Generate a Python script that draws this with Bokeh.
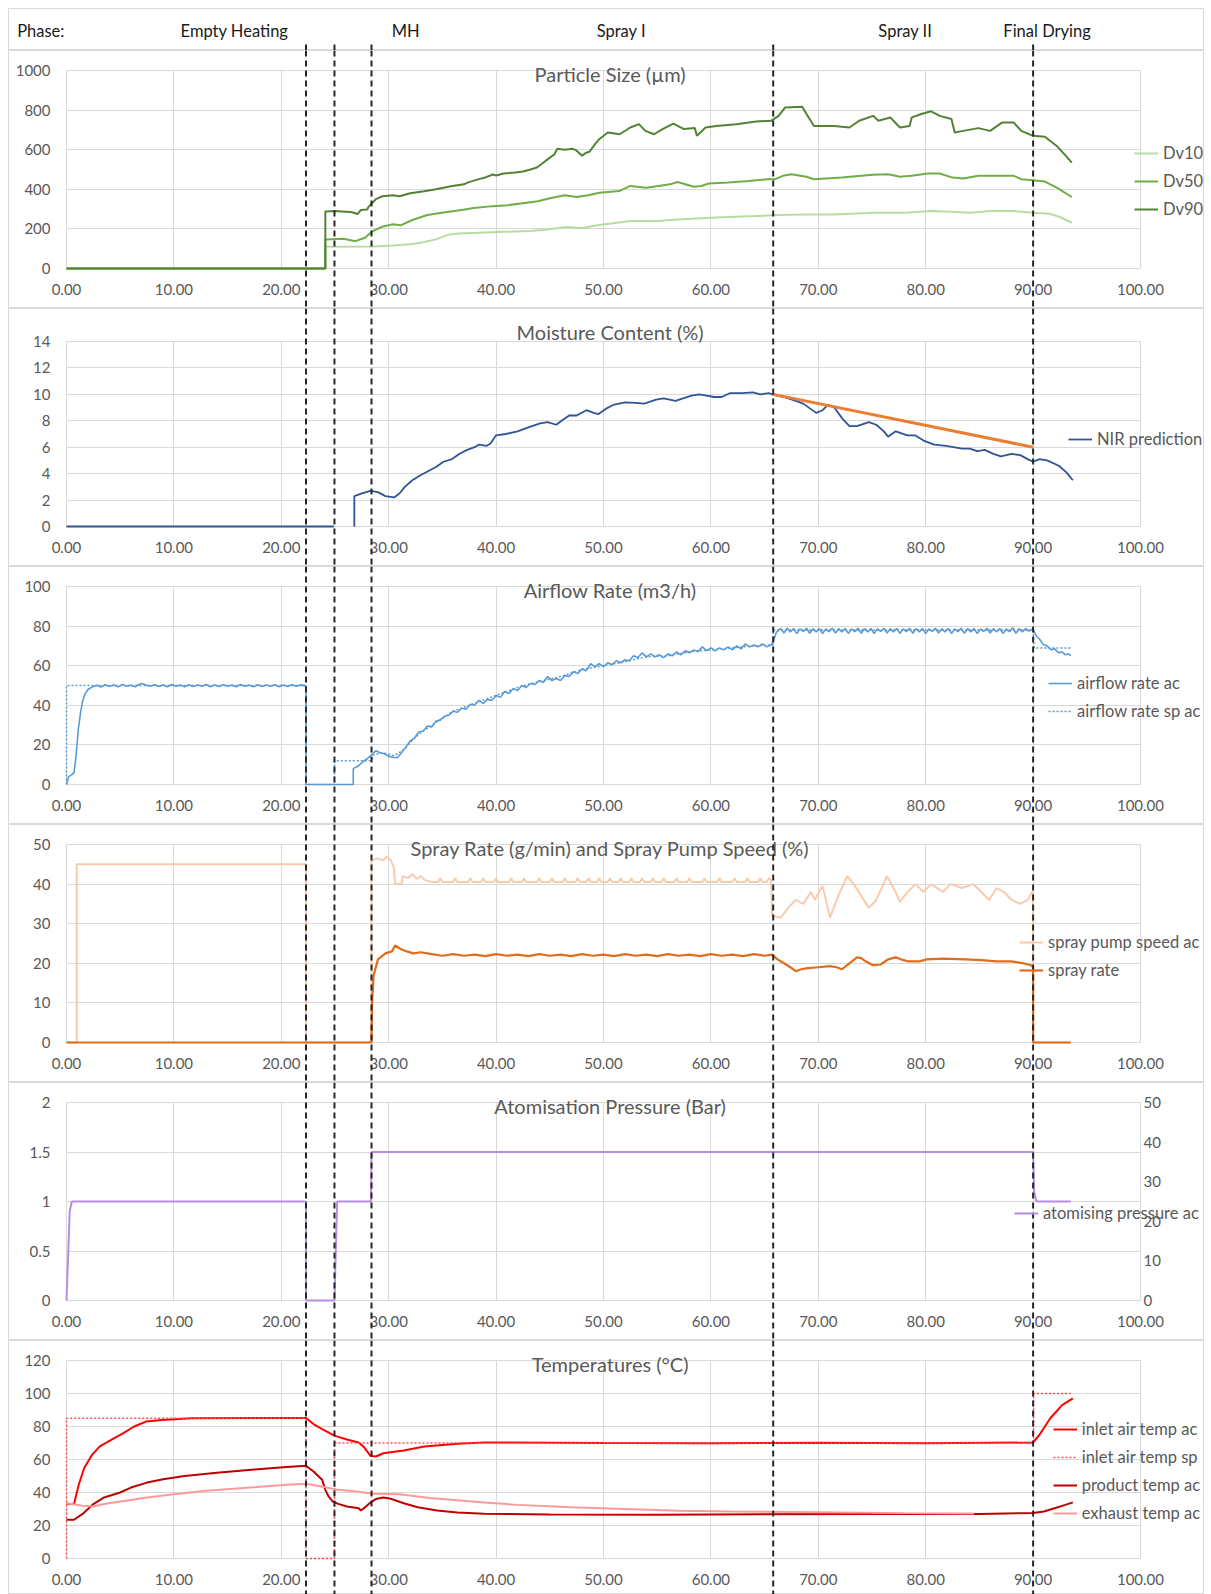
from bokeh.plotting import figure
from bokeh.layouts import column
from bokeh.models import (Range1d, LinearAxis, FixedTicker, PrintfTickFormatter,
                          Span, Label, Legend, LegendItem, Grid)
from bokeh.embed import file_html
from bokeh.resources import INLINE
from bokeh.core.properties import value

NaN = float("nan")

# ---------------------------------------------------------------- data
X_TICKS = [0, 10, 20, 30, 40, 50, 60, 70, 80, 90, 100]
PHASE_TITLE = "Phase:"
PHASE_TITLE_X = -4.59
PHASE_NAMES = ["Empty Heating", "MH", "Spray I", "Spray II", "Final Drying"]
PHASE_LABEL_X = [15.64, 31.58, 51.66, 78.1, 91.3]
PHASE_BOUNDS = [22.3, 24.95, 28.4, 65.8, 90.0]

# Particle size (um)
DV10 = [(0, 0), (24.1, 0), (24.1, 110), (28.5, 111), (30.4, 116), (32.0, 122), (33.0, 130),
        (34.4, 147), (35.5, 170), (36.5, 177), (38.3, 180), (40.7, 185), (43.2, 189),
        (45.0, 198), (46.4, 209), (48.0, 205), (49.6, 220), (52.5, 240), (55.1, 240),
        (56.9, 248), (60.5, 257), (64.2, 265), (66.3, 270), (68.5, 273), (71.5, 273),
        (75.1, 282), (78.0, 282), (80.5, 290), (82.4, 287), (84.2, 282), (86.0, 290),
        (88.2, 290), (90.0, 282), (91.5, 277), (92.5, 260), (93.6, 231)]
DV50 = [(0, 0), (24.1, 0), (24.1, 147), (25.8, 150), (26.9, 138), (27.8, 155), (28.5, 189),
        (29.4, 211), (30.4, 223), (31.1, 218), (32.2, 245), (33.6, 270), (35.4, 285),
        (36.8, 296), (37.9, 305), (39.7, 315), (41.1, 320), (42.5, 330), (43.9, 340),
        (45.0, 355), (46.4, 370), (47.5, 361), (48.6, 370), (49.6, 383), (51.5, 392),
        (52.5, 417), (54.0, 408), (56.2, 425), (56.9, 437), (58.4, 413), (59.1, 417),
        (59.8, 429), (61.6, 434), (63.5, 442), (65.3, 451), (66.0, 451), (66.7, 468),
        (67.5, 476), (68.9, 463), (69.6, 451), (72.2, 459), (75.1, 473), (76.5, 476),
        (77.6, 463), (78.7, 468), (80.2, 480), (81.3, 480), (82.5, 459), (83.5, 454),
        (84.9, 468), (86.7, 468), (88.2, 468), (88.9, 451), (90.0, 446), (91.1, 439),
        (92.2, 408), (93.6, 361)]
DV90 = [(0, 0), (24.1, 0), (24.1, 288), (25.0, 290), (26.0, 287), (26.5, 285), (27.1, 275),
        (27.4, 295), (28.0, 298), (28.1, 310), (28.8, 350), (29.4, 365), (30.4, 370),
        (31.0, 365), (32.0, 380), (33.3, 390), (34.4, 400), (35.8, 415), (37.0, 425),
        (37.4, 435), (38.3, 450), (39.0, 460), (39.7, 475), (40.0, 470), (40.7, 480),
        (41.8, 485), (42.5, 490), (43.2, 500), (43.8, 510), (44.3, 530), (45.0, 560),
        (45.4, 575), (45.7, 605), (46.4, 600), (47.1, 605), (47.5, 595), (48.0, 570),
        (48.4, 585), (48.7, 590), (49.1, 620), (49.6, 653), (50.4, 687), (51.5, 678),
        (52.5, 712), (53.3, 729), (53.9, 695), (54.7, 678), (55.5, 704), (56.5, 732),
        (57.5, 704), (58.5, 709), (58.7, 670), (59.5, 712), (60.5, 720), (62.4, 729),
        (64.2, 743), (65.6, 746), (66.3, 771), (66.9, 813), (68.5, 817), (68.9, 780),
        (69.6, 720), (71.5, 720), (72.9, 712), (73.8, 746), (75.1, 771), (75.6, 746),
        (76.7, 763), (77.6, 712), (78.5, 720), (78.7, 763), (79.6, 780), (80.5, 794),
        (81.3, 771), (82.4, 755), (82.7, 687), (83.5, 695), (84.9, 709), (86.0, 695),
        (87.1, 737), (88.2, 737), (88.9, 695), (90.0, 670), (91.1, 665), (92.2, 619),
        (93.2, 560), (93.6, 535)]

# Moisture content (%)
NIR = [(0, 0), (24.9, 0), (NaN, NaN), (26.8, 0), (26.8, 2.3), (27.5, 2.5), (28.3, 2.7),
       (29.0, 2.6), (29.7, 2.3), (30.5, 2.2), (31.0, 2.5), (31.5, 3.0), (32.2, 3.5),
       (33.0, 3.9), (33.7, 4.2), (34.4, 4.5), (35.1, 4.9), (35.9, 5.1), (36.6, 5.5),
       (37.3, 5.8), (38.0, 6.0), (38.4, 6.2), (39.1, 6.1), (39.5, 6.3), (40.0, 6.9),
       (40.9, 7.0), (42.0, 7.2), (43.0, 7.5), (44.1, 7.8), (44.8, 7.9), (45.6, 7.7),
       (46.1, 8.0), (46.8, 8.4), (47.5, 8.4), (48.4, 8.8), (49.1, 8.6), (49.5, 8.5),
       (50.2, 8.9), (50.9, 9.2), (52.0, 9.4), (53.0, 9.35), (53.8, 9.3), (54.9, 9.6),
       (55.6, 9.7), (56.7, 9.5), (57.4, 9.7), (58.2, 9.9), (58.9, 10.0), (59.6, 9.9),
       (60.3, 9.8), (61.0, 9.8), (61.8, 10.1), (62.9, 10.1), (63.9, 10.15), (64.6, 10.0),
       (65.4, 10.1), (65.7, 10.0), (66.8, 9.8), (67.9, 9.5), (68.6, 9.3), (69.8, 8.6),
       (70.4, 8.8), (70.9, 9.2), (71.5, 9.0), (72.2, 8.2), (72.9, 7.6), (73.6, 7.6),
       (74.7, 7.9), (75.4, 7.7), (76.1, 7.2), (76.5, 6.8), (77.2, 7.2), (78.3, 6.9),
       (79.0, 6.9), (79.8, 6.5), (80.8, 6.2), (81.9, 6.1), (83.4, 5.9), (84.1, 5.9),
       (84.8, 5.7), (85.5, 5.8), (86.3, 5.5), (87.0, 5.3), (88.0, 5.5), (88.8, 5.4),
       (89.5, 5.1), (90.0, 4.9), (90.6, 5.1), (91.3, 5.0), (92.4, 4.6), (93.1, 4.1),
       (93.7, 3.5)]
TREND = [(65.8, 10.0), (90.0, 6.0)]

# Airflow rate (m3/h)
AIR_AC = [(0, 0), (0.2, 4), (0.5, 5), (0.7, 6), (0.9, 15), (1.1, 28), (1.3, 36), (1.5, 42),
          (1.7, 45.5), (2.0, 48), (2.4, 49.3), (2.8, 50.1), (3.2, 49.2), (3.6, 50.4),
          (4.0, 49.5), (4.4, 50.2), (4.8, 49.3), (5.2, 50.5), (5.6, 49.6), (6.0, 50.1),
          (6.4, 49.4), (6.8, 50.6), (7.0, 51.0), (7.4, 50.2), (7.8, 49.6), (8.2, 50.4),
          (8.6, 49.5), (9.0, 50.3), (9.4, 49.4), (9.8, 50.5), (10.2, 49.6), (10.6, 50.2),
          (11.0, 49.3), (11.4, 50.4), (11.8, 49.5), (12.2, 50.3), (12.6, 49.6), (13.0, 50.5),
          (13.4, 49.4), (13.8, 50.2), (14.2, 49.5), (14.6, 50.4), (15.0, 49.6), (15.4, 50.3),
          (15.8, 49.4), (16.2, 50.5), (16.6, 49.6), (17.0, 50.2), (17.4, 49.3), (17.8, 50.4),
          (18.2, 49.5), (18.6, 50.3), (19.0, 49.6), (19.4, 50.4), (19.8, 49.4), (20.2, 50.2),
          (20.6, 49.5), (21.0, 50.4), (21.4, 49.6), (21.8, 50.3), (22.3, 49.8), (22.3, 0),
          (26.7, 0), (26.7, 8), (27.2, 9.5), (27.6, 11.5), (28.0, 13), (28.4, 15), (28.8, 17),
          (29.2, 16), (29.6, 15.5), (30.0, 14.2), (30.4, 13.8), (30.8, 13.5), (31.2, 16),
          (31.6, 19), (32.0, 22), (32.4, 23.5), (32.8, 26.5), (33.2, 27), (33.6, 29.5),
          (34.0, 29), (34.4, 32), (34.8, 32.5), (35.2, 34.5), (35.6, 35), (36.0, 37),
          (36.4, 36.5), (36.8, 38.5), (37.2, 38), (37.6, 40.5), (38.0, 40), (38.4, 42.5),
          (38.8, 41), (39.2, 43), (39.6, 42.5), (40.0, 45), (40.4, 44), (40.8, 47),
          (41.2, 46), (41.6, 48.5), (42.0, 47.5), (42.4, 50), (42.8, 49), (43.2, 51),
          (43.6, 50.5), (44.0, 52.5), (44.4, 51.5), (44.8, 54.5), (45.2, 52.5), (45.6, 53.5),
          (46.0, 52.5), (46.4, 55), (46.8, 54.5), (47.2, 57), (47.6, 56), (48.0, 58.5),
          (48.4, 57.5), (48.8, 61), (49.2, 59.5), (49.6, 61), (50.0, 59.5), (50.4, 61.5),
          (50.8, 60.5), (51.2, 62.5), (51.6, 61.5), (52.0, 63), (52.4, 62.5), (52.8, 65),
          (53.2, 64), (53.6, 66.5), (54.0, 64.5), (54.4, 66), (54.8, 64.5), (55.2, 65.5),
          (55.6, 64), (56.0, 66), (56.4, 65), (56.8, 67), (57.2, 65.5), (57.6, 67.5),
          (58.0, 66.5), (58.4, 68), (58.8, 67), (59.2, 69.5), (59.6, 67.5), (60.0, 69),
          (60.4, 67.5), (60.8, 69), (61.2, 68), (61.6, 69.5), (62.0, 68), (62.4, 70),
          (62.8, 68.5), (63.2, 71), (63.6, 69.5), (64.0, 70.5), (64.4, 69.5), (64.8, 71),
          (65.2, 69.5), (65.6, 70.5), (65.8, 72), (66.1, 77), (66.5, 78.8), (66.8, 76.5),
          (67.1, 79), (67.4, 77), (67.7, 78.8), (68.0, 76.2), (68.3, 78.6), (68.6, 77.3),
          (68.9, 78.9), (69.2, 76.4), (69.5, 78.7), (69.8, 77.1), (70.1, 78.8), (70.4, 76.3),
          (70.7, 78.6), (71.0, 77.2), (71.3, 78.9), (71.6, 76.5), (71.9, 78.7), (72.2, 77.0),
          (72.5, 78.8), (72.8, 76.3), (73.1, 78.6), (73.4, 77.2), (73.7, 78.9), (74.0, 76.4),
          (74.3, 78.7), (74.6, 77.1), (74.9, 78.8), (75.2, 76.2), (75.5, 78.6), (75.8, 77.3),
          (76.1, 78.9), (76.4, 76.5), (76.7, 78.7), (77.0, 77.0), (77.3, 78.8), (77.6, 76.3),
          (77.9, 78.6), (78.2, 77.2), (78.5, 78.9), (78.8, 76.4), (79.1, 78.7), (79.4, 77.1),
          (79.7, 78.8), (80.0, 76.2), (80.3, 78.6), (80.6, 77.3), (80.9, 78.9), (81.2, 76.5),
          (81.5, 78.7), (81.8, 77.0), (82.1, 78.8), (82.4, 76.3), (82.7, 78.6), (83.0, 77.2),
          (83.3, 78.9), (83.6, 76.4), (83.9, 78.7), (84.2, 77.1), (84.5, 78.8), (84.8, 76.2),
          (85.1, 78.6), (85.4, 77.3), (85.7, 78.9), (86.0, 76.5), (86.3, 78.7), (86.6, 77.0),
          (86.9, 78.8), (87.2, 76.3), (87.5, 78.6), (87.8, 77.2), (88.1, 79.2), (88.4, 76.4),
          (88.7, 78.7), (89.0, 77.1), (89.3, 78.8), (89.6, 77.5), (90.0, 78.5), (90.3, 75),
          (90.6, 73.5), (90.9, 71), (91.3, 70), (91.7, 68), (92.0, 68.5), (92.4, 66.5),
          (92.7, 67), (93.0, 65.5), (93.3, 66), (93.5, 65)]
AIR_SP = [(0, 0), (0, 50), (22.3, 50), (22.3, 0), (24.95, 0), (24.95, 12), (28.4, 12),
          (28.6, 15), (29.5, 16), (30.5, 14.5), (31.5, 18), (32.5, 24), (34.0, 30),
          (36.0, 37), (38.0, 41), (40.0, 45), (42.0, 49), (44.0, 52), (46.0, 54.5),
          (48.0, 58), (50.0, 60), (52.0, 62), (54.0, 64.5), (56.0, 65), (58.0, 67),
          (60.0, 68), (62.0, 69), (64.0, 70), (65.8, 70.5), (65.8, 78), (90.0, 78),
          (90.1, 69), (93.5, 69)]

# Spray rate (g/min) and spray pump speed (%)
PUMP = [(0, 0), (0.95, 0), (0.95, 45), (22.3, 45), (22.3, 0), (28.4, 0), (28.4, 46),
        (29.0, 46.5), (29.5, 46), (29.8, 47), (30.2, 46), (30.5, 44), (30.6, 40),
        (31.2, 40), (31.3, 42), (31.8, 41.5), (32.2, 42.5), (32.6, 41.3), (33.0, 42),
        (33.4, 41), (34.0, 40.5), (34.6, 40.5), (34.8, 41.5), (35.0, 40.5), (36.0, 40.5),
        (36.2, 41.5), (36.4, 40.5), (37.4, 40.5), (37.6, 41.5), (37.8, 40.5), (38.6, 40.5),
        (38.8, 41.5), (39.0, 40.5), (39.8, 40.5), (40.0, 41.5), (40.2, 40.5), (41.2, 40.5),
        (41.4, 41.5), (41.6, 40.5), (42.4, 40.5), (42.6, 41.5), (42.8, 40.5), (43.8, 40.5),
        (44.0, 41.5), (44.2, 40.5), (45.0, 40.5), (45.2, 41.5), (45.4, 40.5), (46.2, 40.5),
        (46.4, 41.5), (46.6, 40.5), (47.4, 40.5), (47.6, 41.5), (47.8, 40.5), (48.4, 40.5),
        (48.6, 41.5), (48.8, 40.5), (49.4, 40.5), (49.6, 41.5), (49.8, 40.5), (50.4, 40.5),
        (50.6, 41.5), (50.8, 40.5), (51.4, 40.5), (51.6, 41.5), (51.8, 40.5), (52.4, 40.5),
        (52.6, 41.5), (52.8, 40.5), (53.4, 40.5), (53.6, 41.5), (53.8, 40.5), (54.4, 40.5),
        (54.6, 41.5), (54.8, 40.5), (55.4, 40.5), (55.6, 41.5), (55.8, 40.5), (56.6, 40.5),
        (56.8, 41.5), (57.0, 40.5), (57.8, 40.5), (58.0, 41.5), (58.2, 40.5), (59.2, 40.5),
        (59.4, 41.5), (59.6, 40.5), (60.6, 40.5), (60.8, 41.5), (61.0, 40.5), (62.0, 40.5),
        (62.2, 41.5), (62.4, 40.5), (63.2, 40.5), (63.4, 41.5), (63.6, 40.5), (64.4, 40.5),
        (64.6, 41.5), (64.8, 40.5), (65.2, 40.5), (65.4, 41.5), (65.6, 41), (65.7, 32),
        (66.5, 31.5), (67.2, 34), (67.9, 36), (68.6, 35), (69.3, 38), (69.7, 36),
        (70.05, 38), (70.4, 39.5), (71.1, 31.5), (71.85, 37), (72.7, 42), (73.3, 40),
        (74.0, 37), (74.7, 34), (75.4, 36), (76.4, 42), (77.2, 38), (77.6, 35.5),
        (78.3, 38), (79.05, 40), (79.8, 38), (80.5, 40), (81.6, 38), (82.3, 40),
        (83.4, 39), (84.4, 40), (85.2, 38), (85.9, 36), (86.6, 39), (87.3, 38), (88.0, 36),
        (88.8, 35), (89.5, 36), (89.9, 38), (90.0, 38), (90.0, 0), (93.5, 0)]
SPRAY = [(0, 0), (28.4, 0), (28.45, 10), (28.6, 17), (29.0, 21), (29.7, 22.5), (30.3, 23),
         (30.6, 24.5), (31.2, 23.5), (31.7, 23), (32.3, 22.5), (33.0, 22.8), (34.0, 22.3),
         (35.0, 21.9), (36.0, 22.3), (37.0, 21.9), (38.0, 22.2), (39.0, 21.8), (40.0, 22.3),
         (41.0, 21.9), (42.0, 22.2), (43.0, 21.8), (44.0, 22.3), (45.0, 21.9), (46.0, 22.2),
         (47.0, 21.8), (48.0, 22.3), (49.0, 21.9), (50.0, 22.2), (51.0, 21.8), (52.0, 22.3),
         (53.0, 21.9), (54.0, 22.2), (55.0, 21.8), (56.0, 22.3), (57.0, 21.9), (58.0, 22.2),
         (59.0, 21.8), (60.0, 22.3), (61.0, 21.9), (62.0, 22.2), (63.0, 21.8), (64.0, 22.3),
         (65.0, 21.9), (65.7, 22.2), (66.2, 21), (66.8, 20), (67.4, 19), (67.9, 18),
         (68.4, 18.5), (69.0, 18.8), (70.0, 19), (71.1, 19.3), (71.7, 19), (72.2, 18.5),
         (72.9, 20), (73.6, 21.5), (74.0, 21.3), (74.4, 20.5), (75.1, 19.5), (75.8, 19.7),
         (76.5, 21), (77.2, 21.5), (77.7, 21), (78.3, 20.5), (79.4, 20.5), (80.1, 21),
         (81.6, 21.2), (83.7, 21), (85.2, 20.8), (86.6, 20.5), (88.0, 20.5), (89.1, 20),
         (89.8, 19.5), (90.0, 19), (90.0, 0), (93.5, 0)]

# Atomisation pressure (bar)
ATOM = [(0, 0), (0.3, 0.9), (0.5, 1.0), (22.3, 1.0), (22.3, 0), (24.95, 0), (25.2, 1.0),
        (28.35, 1.0), (28.4, 1.5), (90.0, 1.5), (90.1, 1.1), (90.3, 1.0), (93.5, 1.0)]
ATOM_TICKS = [0, 0.5, 1, 1.5, 2]
ATOM_TICK_LABELS = ["0", "0.5", "1", "1.5", "2"]
ATOM_RIGHT_TICKS = [0, 10, 20, 30, 40, 50]

# Temperatures (deg C)
INLET_AC = [(0, 33), (0.7, 33), (1.15, 45), (1.66, 55), (2.4, 63), (3.1, 68), (4.2, 72),
            (5.3, 76), (6.3, 80), (7.4, 83), (8.9, 84), (11.7, 85), (22.3, 85.2),
            (23.0, 81.5), (23.8, 78.4), (25.0, 74.3), (26.2, 72), (27.2, 70.3), (27.7, 67.5),
            (28.3, 62.2), (28.8, 61.8), (29.5, 63.8), (31.4, 65.5), (33.3, 67.9),
            (36.4, 69.5), (38.9, 70.3), (50, 70), (60, 69.8), (70, 70.2), (80, 69.8),
            (90, 70.3), (90.6, 75), (91.6, 85), (92.7, 93), (93.7, 97)]
INLET_SP = [(0, 0), (0, 85), (22.3, 85), (22.3, 0), (24.95, 0), (24.95, 70), (90.05, 70),
            (90.05, 100), (93.5, 100)]
PRODUCT = [(0, 23.5), (0.7, 23.5), (1.5, 27), (2.5, 33), (3.5, 37), (5, 40), (6, 43),
           (7.5, 46), (9, 48), (11, 50), (14, 52), (17.5, 54), (20.5, 55.5), (22.3, 56.2),
           (23.0, 52.7), (23.8, 47.7), (24.1, 41.6), (24.4, 37.6), (24.8, 34.5),
           (25.3, 33.1), (26.1, 31.5), (27.2, 30.5), (27.4, 29.1), (27.7, 30.5),
           (28.3, 33.9), (28.8, 36), (29.5, 37), (30.2, 36.2), (31.4, 33.5), (32.7, 31.1),
           (34.5, 29.1), (36.4, 27.9), (38.9, 27.1), (45, 26.6), (55, 26.5), (65, 26.8),
           (75, 27), (85, 27), (90, 27.6), (91, 28.5), (92, 30.5), (93, 32.5), (93.7, 34)]
EXHAUST = [(0, 33.5), (1.5, 32), (2.5, 31.5), (3.5, 33), (5.5, 35), (7.5, 37), (10, 39),
           (13, 41), (16.2, 42.6), (20.5, 44.7), (22.3, 45.3), (24.1, 43.2), (25.3, 41.6),
           (27.0, 40.6), (28.5, 39.2), (31, 39), (33.8, 36.6), (38.9, 33.9), (42, 32.5),
           (47, 31), (52, 30), (57, 29), (62, 28.5), (70, 28), (78, 27.5), (84.5, 27.3)]

# ---------------------------------------------------------------- style / layout
FONT = "Lato"
GRID_C = "#d9d9d9"
TEXT_C = "#595959"
SIDE = 8                      # white border left/right of each chart box
W = 1195                      # frame width
X_PX0 = 58.0
PX_PER_X = 10.74
X_START = -X_PX0 / PX_PER_X
X_END = X_START + W / PX_PER_X
ZERO_FROM_TOP = 218
TITLE_FROM_TOP = ZERO_FROM_TOP - 195
TITLE_X = 601.6
HAS_CROSS = "cross_bounds" in Grid.properties()


def xs(pts):
    return [p[0] for p in pts]


def ys(pts):
    return [p[1] for p in pts]


def axis_style():
    return dict(major_tick_line_color=None, minor_tick_line_color=None,
                major_tick_out=0, major_tick_in=0, minor_tick_out=0, minor_tick_in=0,
                major_label_text_font=FONT, major_label_text_font_size="15px",
                major_label_text_color=TEXT_C)


def make_panel(h, ymax, plot_px, yticks, title, ylabels=None):
    s = ymax / plot_px
    p = figure(width=W + 2 * SIDE, height=h, x_range=Range1d(X_START, X_END),
               y_range=Range1d(-(h - ZERO_FROM_TOP) * s, ZERO_FROM_TOP * s),
               x_axis_type=None, y_axis_type=None, title=None,
               output_backend="svg", toolbar_location=None, min_border=0,
               min_border_left=SIDE, min_border_right=SIDE,
               outline_line_color=GRID_C, background_fill_color="white",
               border_fill_color="white")
    if HAS_CROSS:
        p.add_layout(Grid(dimension=0, ticker=FixedTicker(ticks=X_TICKS), bounds=(0, 100),
                          cross_bounds=(0, ymax), grid_line_color=GRID_C))
        p.add_layout(Grid(dimension=1, ticker=FixedTicker(ticks=yticks), bounds=(0, ymax),
                          cross_bounds=(0, 100), grid_line_color=GRID_C))
    else:
        p.segment(x0=X_TICKS, y0=0, x1=X_TICKS, y1=ymax, line_color=GRID_C, level="underlay")
        p.segment(x0=0, y0=yticks, x1=100, y1=yticks, line_color=GRID_C, level="underlay")
    xa = LinearAxis(ticker=FixedTicker(ticks=X_TICKS),
                    formatter=PrintfTickFormatter(format="%.2f"),
                    fixed_location=0, bounds=(0, 100), axis_line_color=None,
                    major_label_standoff=15, **axis_style())
    p.add_layout(xa, "below")
    ya = LinearAxis(ticker=FixedTicker(ticks=yticks), fixed_location=0, bounds=(0, ymax),
                    axis_line_color=None, major_label_standoff=16, **axis_style())
    if ylabels is not None:
        ya.major_label_overrides = ylabels
    p.add_layout(ya, "left")
    p.add_layout(Label(x=TITLE_X, y=h - TITLE_FROM_TOP, x_units="screen", y_units="screen",
                       text=title, text_font=FONT, text_font_size="20px", text_color=TEXT_C,
                       text_align="center", text_baseline="middle"))
    return p


def add_phase_lines(p):
    for b in PHASE_BOUNDS:
        p.add_layout(Span(location=b, dimension="height", line_color="#262626",
                          line_width=2, line_dash="6 4"))


def add_legend(p, h, items, x, offs):
    bottom = h - (ZERO_FROM_TOP + offs[-1] + 10)
    lg = Legend(items=[LegendItem(label=l, renderers=[r]) for l, r in items],
                location=(x, bottom), orientation="vertical",
                background_fill_alpha=0, border_line_alpha=0, padding=0, margin=0,
                spacing=8, glyph_width=24, glyph_height=20, label_height=20,
                label_standoff=5, label_text_font=FONT, label_text_font_size="16.5px",
                label_text_color=TEXT_C)
    p.add_layout(lg)


# ---------------------------------------------------------------- header
HDR_H = 42
hdr = figure(width=W + 2 * SIDE, height=HDR_H + 8, x_range=Range1d(X_START, X_END),
             y_range=Range1d(0, HDR_H), x_axis_type=None, y_axis_type=None, title=None,
             output_backend="svg", toolbar_location=None, min_border=0,
             min_border_left=SIDE, min_border_right=SIDE, min_border_top=8,
             outline_line_color=GRID_C, border_fill_color="white")
hdr.text(x=[PHASE_TITLE_X], y=20, text=[PHASE_TITLE], text_align="left",
         text_baseline="middle", text_font=value(FONT), text_font_size="16.5px",
         text_color="#1a1a1a")
hdr.text(x=PHASE_LABEL_X, y=20, text=PHASE_NAMES, text_align="center",
         text_baseline="middle", text_font=value(FONT), text_font_size="16.5px",
         text_color="#1a1a1a")
hdr.segment(x0=PHASE_BOUNDS, y0=0, x1=PHASE_BOUNDS, y1=7, line_color="#262626",
            line_width=2, line_dash="6 4")

# ---------------------------------------------------------------- panel 1
H = 258
p1 = make_panel(H, 1000, 198, [0, 200, 400, 600, 800, 1000], "Particle Size (µm)")
r10 = p1.line(xs(DV10), ys(DV10), line_color="#b8dca0", line_width=2)
r50 = p1.line(xs(DV50), ys(DV50), line_color="#70ad47", line_width=2)
r90 = p1.line(xs(DV90), ys(DV90), line_color="#548235", line_width=2)
add_phase_lines(p1)
add_legend(p1, H, [("Dv10", r10), ("Dv50", r50), ("Dv90", r90)], 1126, [-115, -86.4, -59])

# ---------------------------------------------------------------- panel 2
p2 = make_panel(H, 14, 185, [0, 2, 4, 6, 8, 10, 12, 14], "Moisture Content (%)")
rn = p2.line(xs(NIR), ys(NIR), line_color="#2f5597", line_width=1.8)
p2.line(xs(TREND), ys(TREND), line_color="#ed7d31", line_width=3)
add_phase_lines(p2)
add_legend(p2, H, [("NIR prediction", rn)], 1060, [-87.5])

# ---------------------------------------------------------------- panel 3
p3 = make_panel(H, 100, 198, [0, 20, 40, 60, 80, 100], "Airflow Rate (m3/h)")
ra = p3.line(xs(AIR_AC), ys(AIR_AC), line_color="#5b9bd5", line_width=1.6)
rs = p3.line(xs(AIR_SP), ys(AIR_SP), line_color="#5b9bd5", line_width=1.5, line_dash="2 2")
add_phase_lines(p3)
add_legend(p3, H, [("airflow rate ac", ra), ("airflow rate sp ac", rs)], 1040, [-101.7, -73.3])

# ---------------------------------------------------------------- panel 4
p4 = make_panel(H, 50, 198, [0, 10, 20, 30, 40, 50],
                "Spray Rate (g/min) and Spray Pump Speed (%)")
rp = p4.line(xs(PUMP), ys(PUMP), line_color="#f8cbad", line_width=2)
rr = p4.line(xs(SPRAY), ys(SPRAY), line_color="#e06c1c", line_width=2.2)
add_phase_lines(p4)
add_legend(p4, H, [("spray pump speed ac", rp), ("spray rate", rr)], 1011, [-100.4, -72])

# ---------------------------------------------------------------- panel 5
p5 = make_panel(H, 2, 198, ATOM_TICKS, "Atomisation Pressure (Bar)",
                ylabels=dict(zip(ATOM_TICKS, ATOM_TICK_LABELS)))
fac = ATOM_RIGHT_TICKS[-1] / ATOM_TICKS[-1]
p5.extra_y_ranges = {"right": Range1d(p5.y_range.start * fac, p5.y_range.end * fac)}
rax = LinearAxis(y_range_name="right", ticker=FixedTicker(ticks=ATOM_RIGHT_TICKS),
                 fixed_location=100, axis_line_color=None, major_label_standoff=3,
                 **axis_style())
p5.add_layout(rax, "right")
rat = p5.line(xs(ATOM), ys(ATOM), line_color="#b58ee3", line_width=2)
add_phase_lines(p5)
add_legend(p5, H, [("atomising pressure ac", rat)], 1006, [-87.5])

# ---------------------------------------------------------------- panel 6
H6 = 254
p6 = make_panel(H6, 120, 198, [0, 20, 40, 60, 80, 100, 120], "Temperatures (°C)")
ri = p6.line(xs(INLET_AC), ys(INLET_AC), line_color="#ff0000", line_width=2)
rsp = p6.line(xs(INLET_SP), ys(INLET_SP), line_color="#ff5050", line_width=1.5, line_dash="2 2")
rpr = p6.line(xs(PRODUCT), ys(PRODUCT), line_color="#c00000", line_width=2)
rex = p6.line(xs(EXHAUST), ys(EXHAUST), line_color="#ff9999", line_width=2)
add_phase_lines(p6)
add_legend(p6, H6, [("inlet air temp ac", ri), ("inlet air temp sp", rsp),
                    ("product temp ac", rpr), ("exhaust temp ac", rex)],
           1044.7, [-129, -100.7, -73, -44.7])

layout = column(hdr, p1, p2, p3, p4, p5, p6, spacing=0)
open("out.html", "w").write(file_html(layout, INLINE, title="Process phases"))
